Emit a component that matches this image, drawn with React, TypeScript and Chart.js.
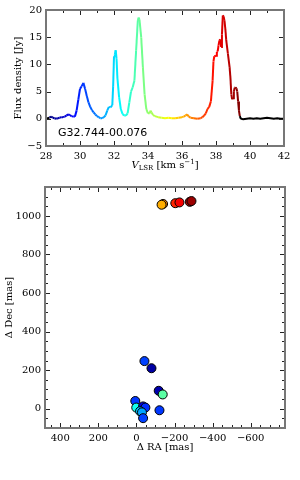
import React, { useEffect, useRef } from 'react';
import { Chart, registerables } from 'chart.js';

Chart.register(...registerables);

// ---------- Spectrum data ----------
const VELOCITY = [
  28.0, 28.1, 28.2, 28.3, 28.4, 28.5, 28.6, 28.7, 28.8, 28.9,
  29.0, 29.1, 29.2, 29.3, 29.4, 29.5, 29.6, 29.7, 29.8, 29.9,
  30.0, 30.1, 30.2, 30.3, 30.4, 30.5, 30.6, 30.7, 30.8, 30.9,
  31.0, 31.1, 31.2, 31.3, 31.4, 31.5, 31.6, 31.7, 31.8, 31.9,
  31.95, 32.0, 32.05, 32.1, 32.15, 32.2, 32.3, 32.4, 32.5, 32.6,
  32.7, 32.8, 32.9, 33.0, 33.1, 33.2, 33.3, 33.4, 33.45, 33.5,
  33.6, 33.7, 33.8, 33.9, 34.0, 34.1, 34.15, 34.2, 34.3, 34.4,
  34.6, 34.8, 35.0, 35.2, 35.4, 35.6, 35.8, 36.0, 36.1, 36.2,
  36.3, 36.4, 36.5, 36.7, 36.9, 37.1, 37.2, 37.3, 37.4, 37.5,
  37.6, 37.7, 37.8, 37.85, 37.9, 38.0, 38.05, 38.1, 38.15, 38.2,
  38.25, 38.3, 38.35, 38.4, 38.45, 38.5, 38.55, 38.6, 38.7, 38.8,
  38.85, 38.9, 38.95, 39.0, 39.05, 39.1, 39.15, 39.2, 39.25, 39.3,
  39.35, 39.4, 39.45, 39.5, 39.6, 39.8, 40.0, 40.2, 40.4, 40.6,
  40.8, 41.0, 41.2, 41.4, 41.6, 41.8, 42.0,
];
const FLUX = [
  0.0, 0.1, 0.2, 0.4, 0.2, 0.1, 0.0, 0.1, 0.2, 0.3,
  0.3, 0.4, 0.6, 0.8, 0.7, 0.5, 0.4, 0.4, 1.5, 3.5,
  5.5, 6.0, 6.6, 5.5, 4.2, 3.0, 2.2, 1.6, 1.2, 0.8,
  0.5, 0.3, 0.1, 0.1, 0.3, 0.6, 1.5, 2.2, 2.1, 2.5,
  6.0, 11.5, 11.8, 12.6, 11.0, 7.5, 4.0, 1.8, 0.9, 0.6,
  0.6, 1.0, 3.0, 5.0, 5.8, 7.0, 12.5, 18.0, 18.6, 18.2,
  15.0, 9.5, 4.5, 1.8, 1.0, 1.0, 1.5, 1.2, 0.7, 0.5,
  0.3, 0.2, 0.1, 0.2, 0.1, 0.1, 0.2, 0.3, 0.4, 0.6,
  0.8, 0.4, 0.2, 0.1, 0.0, 0.1, 0.3, 0.6, 1.0, 1.8,
  2.2, 3.2, 7.0, 10.5, 11.5, 11.6, 12.3, 12.4, 13.5, 14.4,
  14.6, 13.2, 15.5, 19.0, 18.8, 18.0, 16.5, 14.5, 12.0, 9.5,
  7.5, 4.5, 3.6, 3.8, 5.0, 5.7, 5.8, 5.6, 5.0, 3.2,
  1.5, 0.5, 0.1, 0.0, -0.1, 0.0, 0.1, 0.0, 0.1, 0.0,
  0.1, 0.2, 0.1, 0.0, 0.1, 0.0, 0.0,
];
const COLOR_V_MIN = 28.2;
const COLOR_V_MAX = 39.4;

const SPEC_X_TICKS = [28, 30, 32, 34, 36, 38, 40, 42];
const SPEC_X_MINOR = [29, 31, 33, 35, 37, 39, 41];
const SPEC_Y_TICKS = [-5, 0, 5, 10, 15, 20];
const SOURCE_NAME = 'G32.744-00.076';

// ---------- Maser spot map data ----------
const SPOT_RA = [-42, -79, -117, -138, 6, 1, -35, -47, -19, -29, -35, -121, -140, -132, -204, -226, -280, -289];
const SPOT_DEC = [247, 210, 93, 74, 40, 6, 12, 6, -13, -19, -49, -8, 1062, 1058, 1066, 1070, 1073, 1077];
const SPOT_VEL = [30.3, 28.6, 28.7, 33.4, 30.2, 32.6, 29.3, 30.1, 31.8, 31.4, 30.3, 30.2, 36.6, 36.1, 37.6, 38.1, 38.8, 39.1];

const MAP_X_TICKS = [400, 200, 0, -200, -400, -600];
const MAP_Y_TICKS = [0, 200, 400, 600, 800, 1000];

const SERIF = '"DejaVu Serif", serif';

function jet(v: number): string {
  if (v < COLOR_V_MIN || v > COLOR_V_MAX) return '#000000';
  const t = (v - COLOR_V_MIN) / (COLOR_V_MAX - COLOR_V_MIN);
  const c = (o: number) => Math.round(255 * Math.max(0, Math.min(1, 1.5 - Math.abs(4 * t - o))));
  return `rgb(${c(3)},${c(2)},${c(1)})`;
}

function minorRange(lo: number, hi: number, step: number): number[] {
  const out: number[] = [];
  for (let v = Math.ceil(lo / step) * step; v <= hi; v += step) out.push(v);
  return out;
}

const fmt = (v: number) => (v < 0 ? '\u2212' + Math.abs(v) : String(v));

const frameTicks = {
  id: 'frameTicks',
  afterDraw(chart: any, _args: any, opts: any) {
    const { ctx, chartArea: a, scales } = chart;
    const xs = scales.x, ys = scales.y;
    ctx.save();
    ctx.strokeStyle = '#222';
    ctx.lineWidth = 1;
    const dx = (vals: number[], len: number) => vals.forEach((v) => {
      const p = Math.round(xs.getPixelForValue(v)) + 0.5;
      if (p <= a.left + 1 || p >= a.right - 1) return;
      ctx.beginPath();
      ctx.moveTo(p, a.bottom); ctx.lineTo(p, a.bottom - len);
      ctx.moveTo(p, a.top); ctx.lineTo(p, a.top + len);
      ctx.stroke();
    });
    const dy = (vals: number[], len: number) => vals.forEach((v) => {
      const p = Math.round(ys.getPixelForValue(v)) + 0.5;
      if (p <= a.top + 1 || p >= a.bottom - 1) return;
      ctx.beginPath();
      ctx.moveTo(a.left, p); ctx.lineTo(a.left + len, p);
      ctx.moveTo(a.right, p); ctx.lineTo(a.right - len, p);
      ctx.stroke();
    });
    dx(opts.xMajor || [], 5);
    dx(opts.xMinor || [], 3);
    dy(opts.yMajor || [], 5);
    dy(opts.yMinor || [], 3);
    ctx.strokeStyle = '#777';
    ctx.lineWidth = 2;
    ctx.strokeRect(a.left, a.top, a.right - a.left, a.bottom - a.top);
    ctx.restore();
  },
};

const specLabels = {
  id: 'specLabels',
  afterDraw(chart: any) {
    const { ctx, chartArea: a, scales } = chart;
    ctx.save();
    ctx.fillStyle = '#000';
    ctx.textBaseline = 'alphabetic';
    // source name
    ctx.font = '11px "DejaVu Sans", sans-serif';
    ctx.textAlign = 'left';
    ctx.fillText(SOURCE_NAME, scales.x.getPixelForValue(28.7), scales.y.getPixelForValue(-3.1));
    // V_LSR [km s^-1]
    const parts = [
      { t: 'V', f: `italic 10px ${SERIF}`, dy: 0 },
      { t: 'LSR', f: `7px ${SERIF}`, dy: 2 },
      { t: ' [km s', f: `10px ${SERIF}`, dy: 0 },
      { t: '\u22121', f: `7px ${SERIF}`, dy: -4 },
      { t: ']', f: `10px ${SERIF}`, dy: 0 },
    ];
    let w = 0;
    parts.forEach((p) => { ctx.font = p.f; w += ctx.measureText(p.t).width; });
    let x = (a.left + a.right) / 2 - w / 2;
    const base = 168;
    parts.forEach((p) => {
      ctx.font = p.f;
      ctx.fillText(p.t, x, base + p.dy);
      x += ctx.measureText(p.t).width;
    });
    ctx.restore();
  },
};

export default function App() {
  const topRef = useRef<HTMLCanvasElement | null>(null);
  const botRef = useRef<HTMLCanvasElement | null>(null);

  useEffect(() => {
    const tickFont = { family: SERIF, size: 10 };
    const specPts = VELOCITY.map((v, i) => ({ x: v, y: FLUX[i] }));
    const top = new Chart(topRef.current as HTMLCanvasElement, {
      type: 'line',
      data: {
        datasets: [{
          data: specPts,
          borderWidth: 2,
          pointRadius: 0,
          tension: 0,
          fill: false,
          segment: {
            borderColor: (c: any) => jet((c.p0.parsed.x + c.p1.parsed.x) / 2),
          },
        } as any],
      },
      options: {
        responsive: false,
        animation: false,
        layout: { padding: { top: 10, right: 16, left: 0, bottom: 0 } },
        plugins: { legend: { display: false }, tooltip: { enabled: false }, frameTicks: { xMajor: SPEC_X_TICKS, xMinor: SPEC_X_MINOR, yMajor: SPEC_Y_TICKS } } as any,
        scales: {
          x: {
            type: 'linear', min: 28, max: 42,
            grid: { display: false, drawTicks: false }, border: { display: false },
            afterBuildTicks: (ax: any) => { ax.ticks = SPEC_X_TICKS.map((v) => ({ value: v })); },
            afterFit: (ax: any) => { ax.height = 29; },
            ticks: { font: tickFont, color: '#000', padding: 4, maxRotation: 0, autoSkip: false, callback: (v: any) => fmt(Number(v)) },
          },
          y: {
            type: 'linear', min: -5, max: 20,
            grid: { display: false, drawTicks: false }, border: { display: false },
            afterBuildTicks: (ax: any) => { ax.ticks = SPEC_Y_TICKS.map((v) => ({ value: v })); },
            afterFit: (ax: any) => { ax.width = 46; },
            ticks: { font: tickFont, color: '#000', padding: 4, autoSkip: false, callback: (v: any) => fmt(Number(v)) },
            title: { display: true, text: 'Flux density [Jy]', font: { family: SERIF, size: 10 }, color: '#000', padding: { top: 12, bottom: 0 } },
          },
        },
      } as any,
      plugins: [frameTicks, specLabels],
    });

    const spotPts = SPOT_RA.map((r, i) => ({ x: r, y: SPOT_DEC[i] }));
    const bot = new Chart(botRef.current as HTMLCanvasElement, {
      type: 'scatter',
      data: {
        datasets: [{
          data: spotPts,
          pointRadius: 4.5,
          pointBorderWidth: 1,
          pointBorderColor: '#000',
          pointBackgroundColor: SPOT_VEL.map(jet),
        } as any],
      },
      options: {
        responsive: false,
        animation: false,
        layout: { padding: { top: 12, right: 15, left: 0, bottom: 0 } },
        plugins: {
          legend: { display: false }, tooltip: { enabled: false },
          frameTicks: {
            xMajor: MAP_X_TICKS, xMinor: minorRange(-780, 480, 50).filter((v) => v % 200 !== 0),
            yMajor: MAP_Y_TICKS, yMinor: minorRange(-100, 1150, 50).filter((v) => v % 200 !== 0),
          },
        } as any,
        scales: {
          x: {
            type: 'linear', min: -780, max: 480, reverse: true,
            grid: { display: false, drawTicks: false }, border: { display: false },
            afterBuildTicks: (ax: any) => { ax.ticks = MAP_X_TICKS.map((v) => ({ value: v })); },
            afterFit: (ax: any) => { ax.height = 52; },
            ticks: { font: tickFont, color: '#000', padding: 4, maxRotation: 0, autoSkip: false, callback: (v: any) => fmt(Number(v)) },
            title: { display: true, text: '\u0394 RA [mas]', font: { family: SERIF, size: 10 }, color: '#000', padding: { top: 0, bottom: 27 } },
          },
          y: {
            type: 'linear', min: -100, max: 1150,
            grid: { display: false, drawTicks: false }, border: { display: false },
            afterBuildTicks: (ax: any) => { ax.ticks = MAP_Y_TICKS.map((v) => ({ value: v })); },
            afterFit: (ax: any) => { ax.width = 45; },
            ticks: { font: tickFont, color: '#000', padding: 4, autoSkip: false, callback: (v: any) => fmt(Number(v)) },
            title: { display: true, text: '\u0394 Dec [mas]', font: { family: SERIF, size: 10 }, color: '#000', padding: { top: 3, bottom: 0 } },
          },
        },
      } as any,
      plugins: [frameTicks],
    });

    return () => { top.destroy(); bot.destroy(); };
  }, []);

  return (
    <div style={{ position: 'absolute', left: 0, top: 0, width: 300, height: 480, background: '#fff' }}>
      <canvas ref={topRef} width={300} height={175} style={{ position: 'absolute', left: 0, top: 0, width: 300, height: 175 }} />
      <canvas ref={botRef} width={300} height={305} style={{ position: 'absolute', left: 0, top: 175, width: 300, height: 305 }} />
    </div>
  );
}
